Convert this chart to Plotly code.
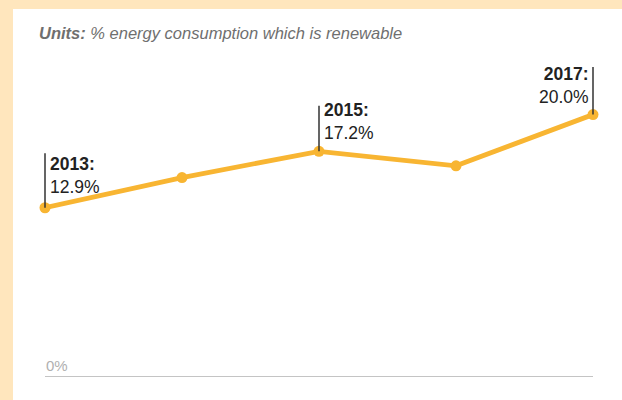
import plotly.graph_objects as go

years = [2013, 2014, 2015, 2016, 2017]
values = [12.9, 15.2, 17.2, 16.1, 20.0]
labeled_years = [2013, 2015, 2017]
units_label = "<b>Units:</b> % energy consumption which is renewable"

W, H = 622, 400
ml, mr, mt, mb = 45, 29, 60, 23
plot_w = W - ml - mr
plot_h = H - mt - mb
px_per_unit = 13.12
ymax = plot_h / px_per_unit
FONT = "Liberation Sans, Arial, Helvetica"

fig = go.Figure()
fig.add_trace(go.Scatter(
    x=years, y=values, mode="lines+markers",
    line=dict(color="#F8B532", width=4.8),
    marker=dict(color="#F8B532", size=11),
    cliponaxis=False, hoverinfo="skip", showlegend=False,
))

ann = []
for yr in labeled_years:
    v = values[years.index(yr)]
    stem = {2013: 56, 2015: 47, 2017: 49}[yr]
    ann.append(dict(x=yr, y=v, xref="x", yref="y", text="", showarrow=True,
                    arrowhead=0, arrowwidth=1.5, arrowcolor="#333333",
                    ax=0, ay=-stem, standoff=0, startstandoff=0))
    right = yr == years[-1]
    ann.append(dict(x=yr, y=v, xref="x", yref="y",
                    text=f"<b>{yr}:</b><br>{v:.1f}%", showarrow=False,
                    xanchor="right" if right else "left",
                    yanchor="bottom", align="right" if right else "left",
                    xshift=-2 if right else 3, yshift=9 if yr == 2013 else 6,
                    font=dict(family=FONT, size=17.5, color="#222222")))

ann.append(dict(x=(37 - ml) / plot_w, y=(H - 33 - mb) / plot_h, xref="paper", yref="paper",
                text=f"<i>{units_label}</i>", showarrow=False, xanchor="left", yanchor="middle",
                font=dict(family=FONT, size=16.5, color="#6f6f6f")))
ann.append(dict(x=(44 - ml) / plot_w, y=0, xref="paper", yref="y",
                text="0%", showarrow=False, xanchor="left", yanchor="bottom", yshift=1,
                font=dict(family=FONT, size=15, color="#b0b0b0")))

shapes = [
    # white panel over beige page
    dict(type="rect", xref="paper", yref="paper", layer="below",
         x0=(13 - ml) / plot_w, x1=(W - ml) / plot_w + 0.01,
         y0=-mb / plot_h - 0.01, y1=(H - 9 - mb) / plot_h,
         fillcolor="white", line=dict(width=0)),
    # zero baseline
    dict(type="line", xref="x", yref="y", x0=years[0], x1=years[-1], y0=0, y1=0,
         line=dict(color="#c4c4c4", width=2), layer="below"),
]

fig.update_layout(
    width=W, height=H,
    margin=dict(l=ml, r=mr, t=mt, b=mb),
    paper_bgcolor="#FFE6BD", plot_bgcolor="rgba(0,0,0,0)",
    xaxis=dict(range=[years[0], years[-1]], visible=False, fixedrange=True),
    yaxis=dict(range=[0, ymax], visible=False, fixedrange=True),
    annotations=ann, shapes=shapes,
)
fig.write_html("out.html", config={"displayModeBar": False},
               post_script="document.body.style.margin='0';document.body.style.overflow='hidden';")
